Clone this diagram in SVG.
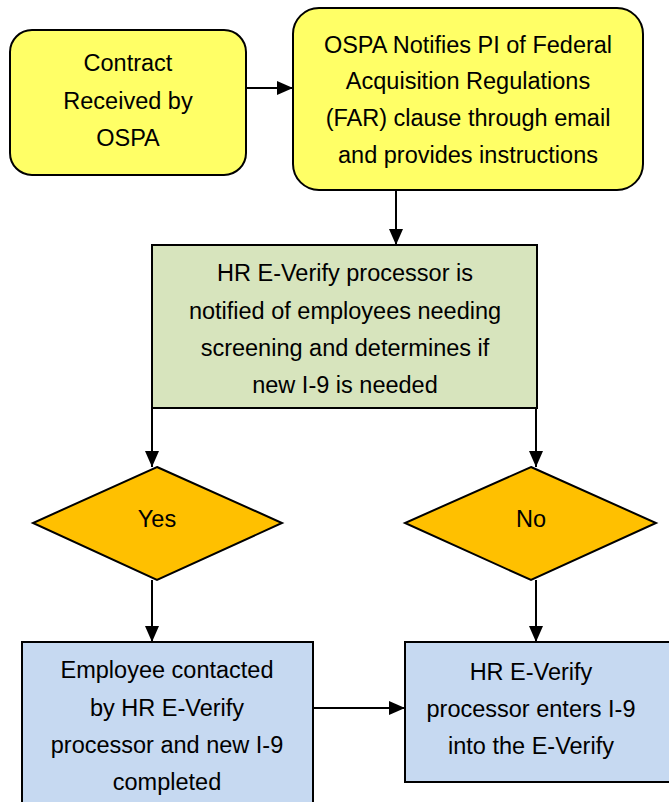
<svg xmlns="http://www.w3.org/2000/svg" width="669" height="802" viewBox="0 0 669 802">
<defs>
<style>
.t{font-family:"Liberation Sans",Arial,sans-serif;font-size:23.5px;fill:#000;text-anchor:middle}
.n{stroke:#000;stroke-width:2}
.c{stroke:#000;stroke-width:2;fill:none}
</style>
<marker id="ah" markerWidth="16" markerHeight="14" refX="16" refY="7" orient="auto" markerUnits="userSpaceOnUse">
<path d="M0,0 L16,7 L0,14 Z" fill="#000"/>
</marker>
</defs>
<rect width="669" height="802" fill="#fff"/>
<g id="contract">
<rect class="n" x="10" y="30" width="236" height="145" rx="22" fill="#FFFF66"/>
<text class="t" x="128" y="71">Contract</text>
<text class="t" x="128" y="109">Received by</text>
<text class="t" x="128" y="146">OSPA</text>
</g>
<g id="notify">
<rect class="n" x="293" y="8" width="350" height="182" rx="26" fill="#FFFF66"/>
<text class="t" x="468" y="53">OSPA Notifies PI of Federal</text>
<text class="t" x="468" y="89">Acquisition Regulations</text>
<text class="t" x="468" y="126">(FAR) clause through email</text>
<text class="t" x="468" y="163">and provides instructions</text>
</g>
<g id="hr">
<rect class="n" x="152" y="245" width="385" height="163" fill="#D7E4BD"/>
<text class="t" x="345" y="281">HR E-Verify processor is</text>
<text class="t" x="345" y="319">notified of employees needing</text>
<text class="t" x="345" y="356">screening and determines if</text>
<text class="t" x="345" y="393">new I-9 is needed</text>
</g>
<g id="yes">
<polygon class="n" points="157,467 282,523 157,580 33,523" fill="#FFC000"/>
<text class="t" x="157" y="527">Yes</text>
</g>
<g id="no">
<polygon class="n" points="531,467 656,523 531,580 405,523" fill="#FFC000"/>
<text class="t" x="531" y="527">No</text>
</g>
<g id="employee">
<rect class="n" x="22" y="642" width="291" height="170" fill="#C6D9F1"/>
<text class="t" x="167" y="678">Employee contacted</text>
<text class="t" x="167" y="716">by HR E-Verify</text>
<text class="t" x="167" y="753">processor and new I-9</text>
<text class="t" x="167" y="790">completed</text>
</g>
<g id="enter">
<rect class="n" x="405" y="642" width="274" height="140" fill="#C6D9F1"/>
<text class="t" x="531" y="680">HR E-Verify</text>
<text class="t" x="531" y="717">processor enters I-9</text>
<text class="t" x="531" y="754">into the E-Verify</text>
</g>
<g id="connectors">
<line class="c" x1="246" y1="88" x2="293" y2="88" marker-end="url(#ah)"/>
<line class="c" x1="396" y1="190" x2="396" y2="245" marker-end="url(#ah)"/>
<line class="c" x1="152" y1="408" x2="152" y2="467" marker-end="url(#ah)"/>
<line class="c" x1="536" y1="408" x2="536" y2="467" marker-end="url(#ah)"/>
<line class="c" x1="152" y1="580" x2="152" y2="642" marker-end="url(#ah)"/>
<line class="c" x1="536" y1="580" x2="536" y2="642" marker-end="url(#ah)"/>
<line class="c" x1="313" y1="708" x2="405" y2="708" marker-end="url(#ah)"/>
</g>
</svg>
